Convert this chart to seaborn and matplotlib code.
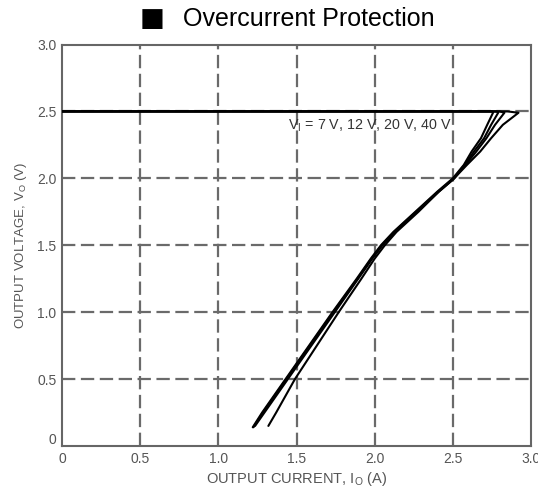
import numpy as np
import pandas as pd
import seaborn as sns
import matplotlib.pyplot as plt
from matplotlib.transforms import ScaledTranslation

# curve data (output current A, output voltage V)
vin_labels = ["7 V", "12 V", "20 V", "40 V"]

v_common = [2.5, 2.5, 2.49, 2.40, 2.30, 2.20, 2.10, 2.00, 1.90, 1.75,
            1.60, 1.50, 1.40, 1.25, 1.00, 0.75, 0.50, 0.25, 0.14]

i_7v = [0.0, 2.75, 2.757, 2.72, 2.68, 2.62, 2.57, 2.50, 2.40, 2.26,
        2.12, 2.04, 1.975, 1.885, 1.73, 1.58, 1.43, 1.28, 1.22]
v_7v = v_common

i_12v = [0.0, 2.78, 2.79, 2.745, 2.70, 2.635, 2.575, 2.505, 2.405, 2.265,
         2.125, 2.045, 1.98, 1.89, 1.735, 1.585, 1.435, 1.285, 1.225]
v_12v = v_common

i_20v = [0.0, 2.80, 2.83, 2.77, 2.715, 2.65, 2.58, 2.51, 2.41, 2.27,
         2.13, 2.05, 1.985, 1.895, 1.745, 1.595, 1.445, 1.295, 1.235]
v_20v = v_common[:-1] + [0.15]

i_40v = [0.0, 2.85, 2.92, 2.82, 2.745, 2.675, 2.59, 2.50, 2.41, 2.28,
         2.14, 2.065, 2.00, 1.915, 1.77, 1.63, 1.49, 1.37, 1.32]
v_40v = [2.5, 2.5, 2.49, 2.40, 2.30, 2.20, 2.10, 1.99, 1.90, 1.75,
         1.60, 1.50, 1.40, 1.25, 1.00, 0.75, 0.50, 0.25, 0.15]

x_ticks = [0, 0.5, 1.0, 1.5, 2.0, 2.5, 3.0]
x_ticklabels = ["0", "0.5", "1.0", "1.5", "2.0", "2.5", "3.0"]
y_ticks = [0, 0.5, 1.0, 1.5, 2.0, 2.5, 3.0]
y_ticklabels = ["0", "0.5", "1.0", "1.5", "2.0", "2.5", "3.0"]

frames = []
for lab, xs, ys in zip(vin_labels, [i_7v, i_12v, i_20v, i_40v],
                       [v_7v, v_12v, v_20v, v_40v]):
    frames.append(pd.DataFrame({"I": xs, "V": ys, "Vin": lab}))
df = pd.concat(frames, ignore_index=True)

sns.set_theme(style="white")
plt.rcParams['font.family'] = ['Liberation Sans', 'DejaVu Sans']
plt.rcParams['mathtext.fontset'] = 'custom'
plt.rcParams['mathtext.rm'] = 'Liberation Sans'

fig = plt.figure(figsize=(5.38, 4.87), dpi=100)
ax = fig.add_axes([62 / 538, 1 - 446 / 487, (531 - 62) / 538, (446 - 44.5) / 487])

# dashed grid
for gx in x_ticks[1:-1]:
    ax.axvline(gx, color="#6a6a6a", lw=1.6, ls=(0, (6, 2.5)), zorder=1)
for gy in y_ticks[1:-1]:
    ax.axhline(gy, color="#6a6a6a", lw=1.6, ls=(0, (6, 2.5)), zorder=1)

sns.lineplot(data=df, x="I", y="V", hue="Vin", units="Vin", estimator=None,
             sort=False, palette=["black"] * 4, lw=1.5, legend=False, ax=ax, zorder=3)

ax.set_xlim(0, 3.0)
ax.set_ylim(0, 3.0)
ax.set_xticks(x_ticks)
ax.set_xticklabels(x_ticklabels)
ax.set_yticks(y_ticks)
ax.set_yticklabels(y_ticklabels)
ax.tick_params(length=0, labelsize=10, labelcolor="#555555", pad=4)
# the y "0" sits a little above the baseline in the original
ax.get_yticklabels()[0].set_transform(
    ax.get_yticklabels()[0].get_transform() + ScaledTranslation(0, 8 / 100, fig.dpi_scale_trans))

for s in ax.spines.values():
    s.set_color("#666666")
    s.set_linewidth(1.5)

ax.set_xlabel(r"OUTPUT CURRENT, I$_\mathrm{O}$ (A)", fontsize=10.5, color="#555555", labelpad=3)
ax.set_ylabel(r"OUTPUT VOLTAGE, V$_\mathrm{O}$ (V)", fontsize=9.5, color="#555555", labelpad=6)

ax.text(1.445, 2.39, r"V$_\mathrm{I}$ = 7 V, 12 V, 20 V, 40 V", fontsize=10.3,
        color="#333333", va="center", ha="left")

# title: big black square + text
fig.text(152 / 538, 1 - 19 / 487, "\u25A0", family="DejaVu Sans", fontsize=19,
         color="black", ha="center", va="center")
fig.text(183 / 538, 1 - 19.5 / 487, "Overcurrent Protection", fontsize=18,
         color="black", ha="left", va="center")

fig.savefig("out.png", dpi=100)
